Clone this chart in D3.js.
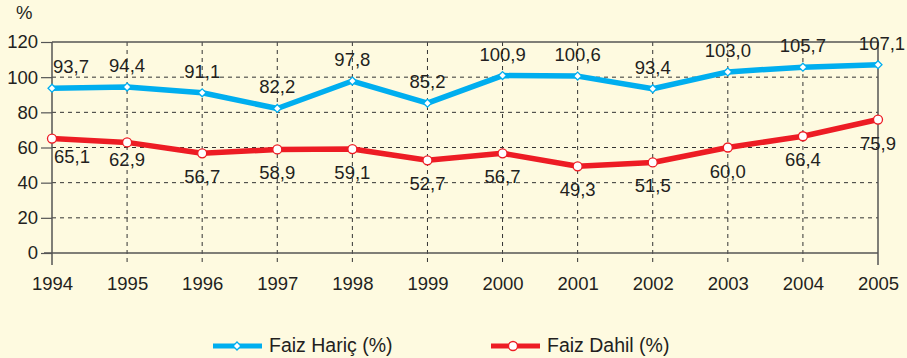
<!DOCTYPE html>
<html>
<head>
<meta charset="utf-8">
<script src="https://cdn.jsdelivr.net/npm/d3@7/dist/d3.min.js"></script>
<style>
  html, body { margin: 0; padding: 0; background: #FEFAE0; }
  svg { display: block; }
  text { font-family: "Liberation Sans", Arial, Helvetica, sans-serif; fill: #231F20; }
</style>
</head>
<body>
<svg id="chart" width="907" height="358"></svg>
<script>
// Years on the horizontal axis
const years = ["1994", "1995", "1996", "1997", "1998", "1999",
               "2000", "2001", "2002", "2003", "2004", "2005"];
// Ratio excluding interest (%)
const faizHaric = [93.7, 94.4, 91.1, 82.2, 97.8, 85.2, 100.9, 100.6, 93.4, 103.0, 105.7, 107.1];
// Ratio including interest (%)
const faizDahil = [65.1, 62.9, 56.7, 58.9, 59.1, 52.7, 56.7, 49.3, 51.5, 60.0, 66.4, 75.9];
const yTicks = [0, 20, 40, 60, 80, 100, 120];
const seriesNames = ["Faiz Hariç (%)", "Faiz Dahil (%)"];
const yUnit = "%";

const BLUE = "#00AEEF";
const RED = "#ED1C24";
const GRID = "#333333";
const AXIS = "#555555";

const svg = d3.select("#chart");
const plotLeft = 52, plotRight = 878, plotTop = 42, plotBottom = 253;

const x = d3.scalePoint().domain(years).range([plotLeft, plotRight]);
const y = d3.scaleLinear().domain([0, 120]).range([plotBottom, plotTop]);

const fmt = v => d3.format(".1f")(v).replace(".", ",");

// Dashed horizontal grid lines (inner ticks)
svg.append("g").selectAll("line")
  .data(yTicks.filter(t => t > 0 && t < 120))
  .join("line")
  .attr("x1", plotLeft).attr("x2", plotRight)
  .attr("y1", d => y(d)).attr("y2", d => y(d))
  .attr("stroke", GRID).attr("stroke-width", 1)
  .attr("stroke-dasharray", "4,4");

// Dashed vertical grid lines, running a little below the baseline
svg.append("g").selectAll("line")
  .data(years.slice(1, -1))
  .join("line")
  .attr("x1", d => x(d)).attr("x2", d => x(d))
  .attr("y1", plotTop).attr("y2", plotBottom + 12)
  .attr("stroke", GRID).attr("stroke-width", 1)
  .attr("stroke-dasharray", "4,4");

// Frame: left axis, right edge, top edge, baseline
const frame = svg.append("g").attr("stroke", AXIS).attr("stroke-width", 1.5);
frame.append("line").attr("x1", plotLeft).attr("x2", plotLeft).attr("y1", plotTop).attr("y2", plotBottom + 12);
frame.append("line").attr("x1", plotRight).attr("x2", plotRight).attr("y1", plotTop).attr("y2", plotBottom + 12);
frame.append("line").attr("x1", plotLeft).attr("x2", plotRight).attr("y1", plotTop).attr("y2", plotTop);
frame.append("line").attr("x1", plotLeft - 8).attr("x2", plotRight).attr("y1", plotBottom).attr("y2", plotBottom);

// Y axis ticks and labels
const yAxis = d3.axisLeft(y).tickValues(yTicks).tickSize(11).tickPadding(3);
const gy = svg.append("g").attr("transform", `translate(${plotLeft},0)`).call(yAxis);
gy.select(".domain").remove();
gy.selectAll(".tick line").attr("stroke", AXIS).attr("stroke-width", 1.2);
gy.selectAll(".tick text")
  .attr("font-size", 18.5).attr("fill", "#231F20")
  .style("font-family", '"Liberation Sans", Arial, sans-serif');

// X axis labels
const xAxis = d3.axisBottom(x).tickSize(0).tickPadding(24);
const gx = svg.append("g").attr("transform", `translate(0,${plotBottom})`).call(xAxis);
gx.select(".domain").remove();
gx.selectAll(".tick text")
  .attr("font-size", 18.5).attr("fill", "#231F20")
  .style("font-family", '"Liberation Sans", Arial, sans-serif');

// Unit label
svg.append("text").attr("x", 16).attr("y", 19).attr("font-size", 18.5).text(yUnit);

// Series lines
const line = d3.line().x((d, i) => x(years[i])).y(d => y(d));

svg.append("path").datum(faizDahil)
  .attr("d", line).attr("fill", "none")
  .attr("stroke", RED).attr("stroke-width", 5.5).attr("stroke-linejoin", "round");

svg.append("path").datum(faizHaric)
  .attr("d", line).attr("fill", "none")
  .attr("stroke", BLUE).attr("stroke-width", 5.5).attr("stroke-linejoin", "round");

// Markers
const diamond = d3.symbol().type(d3.symbolDiamond2).size(40);

svg.append("g").selectAll("circle")
  .data(faizDahil).join("circle")
  .attr("cx", (d, i) => x(years[i])).attr("cy", d => y(d)).attr("r", 4.5)
  .attr("fill", "#fff").attr("stroke", RED).attr("stroke-width", 1.3);

svg.append("g").selectAll("path")
  .data(faizHaric).join("path")
  .attr("d", diamond)
  .attr("transform", (d, i) => `translate(${x(years[i])},${y(d)})`)
  .attr("fill", "#fff").attr("stroke", BLUE).attr("stroke-width", 1.3);

// Value labels
svg.append("g").selectAll("text")
  .data(faizHaric).join("text")
  .attr("x", (d, i) => i === 0 ? x(years[i]) + 1 : x(years[i]) + (i === years.length - 1 ? 4 : 0))
  .attr("y", d => y(d) - 15)
  .attr("text-anchor", (d, i) => i === 0 ? "start" : "middle")
  .attr("font-size", 18.5)
  .text(fmt);

svg.append("g").selectAll("text")
  .data(faizDahil).join("text")
  .attr("x", (d, i) => i === 0 ? x(years[i]) + 2 : x(years[i]))
  .attr("y", (d, i) => y(d) + (i < 2 ? 24 : 30))
  .attr("text-anchor", (d, i) => i === 0 ? "start" : "middle")
  .attr("font-size", 18.5)
  .text(fmt);

// Legend
const legend = [
  { name: seriesNames[0], color: BLUE, x0: 213, marker: "diamond" },
  { name: seriesNames[1], color: RED, x0: 491, marker: "circle" }
];
const ly = 346;
legend.forEach(l => {
  const g = svg.append("g");
  g.append("line").attr("x1", l.x0).attr("x2", l.x0 + 49).attr("y1", ly).attr("y2", ly)
    .attr("stroke", l.color).attr("stroke-width", 5);
  if (l.marker === "diamond") {
    g.append("path").attr("d", diamond).attr("transform", `translate(${l.x0 + 24},${ly})`)
      .attr("fill", "#fff").attr("stroke", l.color).attr("stroke-width", 1.3);
  } else {
    g.append("circle").attr("cx", l.x0 + 22).attr("cy", ly).attr("r", 4.5)
      .attr("fill", "#fff").attr("stroke", l.color).attr("stroke-width", 1.3);
  }
  g.append("text").attr("x", l.x0 + 56).attr("y", ly + 5.5).attr("font-size", 19.5).text(l.name);
});
</script>
</body>
</html>
